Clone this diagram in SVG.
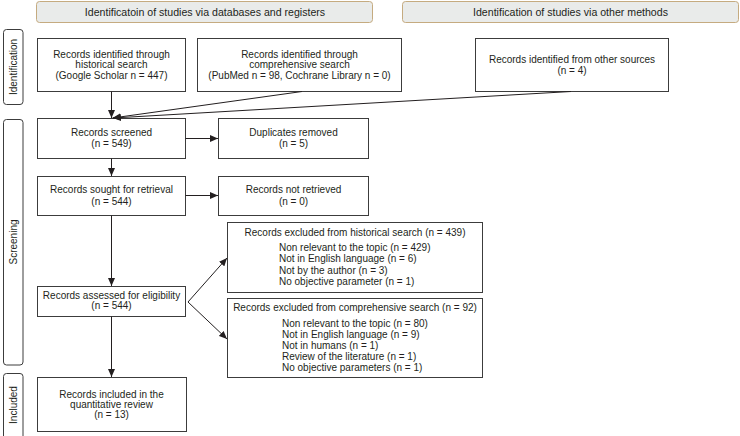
<svg xmlns="http://www.w3.org/2000/svg" width="740" height="436" viewBox="0 0 740 436">
<defs>
<marker id="ah" markerWidth="8" markerHeight="8" viewBox="0 0 8 8" refX="8" refY="4" orient="auto" markerUnits="userSpaceOnUse">
<path d="M0,0.5 L8,4 L0,7.5 Z" fill="#231f20"/>
</marker>
<style>
text{font-family:"Liberation Sans",Arial,sans-serif;font-size:10px;fill:#231f20}
.c{text-anchor:middle}
.h{font-size:10.6px}
.box{fill:#fff;stroke:#3c3c3c;stroke-width:1}
.hdr{fill:#e9ebea;stroke:#c5ab80;stroke-width:1}
.side{fill:#fff;stroke:#3c3c3c;stroke-width:1}
.ln{fill:none;stroke:#231f20;stroke-width:1;marker-end:url(#ah)}
</style>
</defs>
<rect width="740" height="436" fill="#fff"/>
<g id="header-left"><rect class="hdr" x="36.5" y="1.5" width="336" height="21" rx="3"/><text class="c h" x="205" y="15.5">Identificatoin of studies via databases and registers</text></g>
<g id="header-right"><rect class="hdr" x="402.5" y="1.5" width="336" height="21" rx="3"/><text class="c h" x="570.5" y="15.5">Identification of studies via other methods</text></g>
<g id="side-identification"><rect class="side" x="3.5" y="29.5" width="19.5" height="75" rx="3"/><text class="c" transform="translate(16.8,67) rotate(-90)">Identification</text></g>
<g id="side-screening"><rect class="side" x="3.5" y="119.5" width="19.5" height="245.5" rx="3"/><text class="c" transform="translate(16.8,242) rotate(-90)">Screening</text></g>
<g id="side-included"><rect class="side" x="3.5" y="373.5" width="19.5" height="66" rx="3"/><text class="c" transform="translate(16.8,405) rotate(-90)">Included</text></g>
<g id="n-historical"><rect class="box" x="37.5" y="38.5" width="148" height="53"/><text class="c" x="111.5" y="57.5">Records identified through</text><text class="c" x="111.5" y="68">historical search</text><text class="c" x="111.5" y="78.5">(Google Scholar n = 447)</text></g>
<g id="n-comprehensive"><rect class="box" x="197.5" y="38.5" width="204" height="53"/><text class="c" x="299.5" y="57.5">Records identified through</text><text class="c" x="299.5" y="68">comprehensive search</text><text class="c" x="299.5" y="78.5">(PubMed n = 98, Cochrane Library n = 0)</text></g>
<g id="n-other"><rect class="box" x="475.5" y="38.5" width="193" height="53"/><text class="c" x="572" y="62.5">Records identified from other sources</text><text class="c" x="572" y="74">(n = 4)</text></g>
<g id="n-screened"><rect class="box" x="37.5" y="118.5" width="148" height="40"/><text class="c" x="111.5" y="135.5">Records screened</text><text class="c" x="111.5" y="147">(n = 549)</text></g>
<g id="n-duplicates"><rect class="box" x="218.5" y="118.5" width="150" height="40"/><text class="c" x="293.5" y="135.5">Duplicates removed</text><text class="c" x="293.5" y="147">(n = 5)</text></g>
<g id="n-sought"><rect class="box" x="37.5" y="176.5" width="148" height="39"/><text class="c" x="111.5" y="193">Records sought for retrieval</text><text class="c" x="111.5" y="204.5">(n = 544)</text></g>
<g id="n-notretrieved"><rect class="box" x="218.5" y="176.5" width="150" height="39"/><text class="c" x="293.5" y="193">Records not retrieved</text><text class="c" x="293.5" y="204.5">(n = 0)</text></g>
<g id="n-assessed"><rect class="box" x="37.5" y="286.5" width="148" height="30"/><text class="c" x="111.5" y="298.5">Records assessed for eligibility</text><text class="c" x="111.5" y="309">(n = 544)</text></g>
<g id="n-excl-hist"><rect class="box" x="227.5" y="222.5" width="255" height="70"/><text class="c" x="355" y="235.5">Records excluded from historical search (n = 439)</text><text x="279" y="251.2">Non relevant to the topic (n = 429)</text><text x="279" y="262.3">Not in English language (n = 6)</text><text x="279" y="273.5">Not by the author (n = 3)</text><text x="279" y="284.6">No objective parameter (n = 1)</text></g>
<g id="n-excl-comp"><rect class="box" x="227.5" y="298.5" width="255" height="79"/><text class="c" x="355" y="311">Records excluded from comprehensive search (n = 92)</text><text x="282" y="326.8">Non relevant to the topic (n = 80)</text><text x="282" y="337.8">Not in English language (n = 9)</text><text x="282" y="348.7">Not in humans (n = 1)</text><text x="282" y="359.7">Review of the literature (n = 1)</text><text x="282" y="370.7">No objective parameters (n = 1)</text></g>
<g id="n-included"><rect class="box" x="37.5" y="377.5" width="149" height="54"/><text class="c" x="111.5" y="397.5">Records included in the</text><text class="c" x="111.5" y="407.5">quantitative review</text><text class="c" x="111.5" y="417.5">(n = 13)</text></g>
<g id="connectors">
<line class="ln" x1="111.5" y1="91.5" x2="111.5" y2="118"/>
<line class="ln" x1="302" y1="91.5" x2="112.5" y2="118"/>
<line class="ln" x1="571" y1="91.5" x2="113" y2="118"/>
<line class="ln" x1="185.5" y1="138.5" x2="218" y2="138.5"/>
<line class="ln" x1="111.5" y1="158.5" x2="111.5" y2="176"/>
<line class="ln" x1="185.5" y1="195.5" x2="218" y2="195.5"/>
<line class="ln" x1="111.5" y1="215.5" x2="111.5" y2="286"/>
<line class="ln" x1="188" y1="302" x2="227" y2="258"/>
<line class="ln" x1="188" y1="302" x2="227" y2="339"/>
<line class="ln" x1="111.5" y1="316.5" x2="111.5" y2="377"/>
</g>
</svg>
